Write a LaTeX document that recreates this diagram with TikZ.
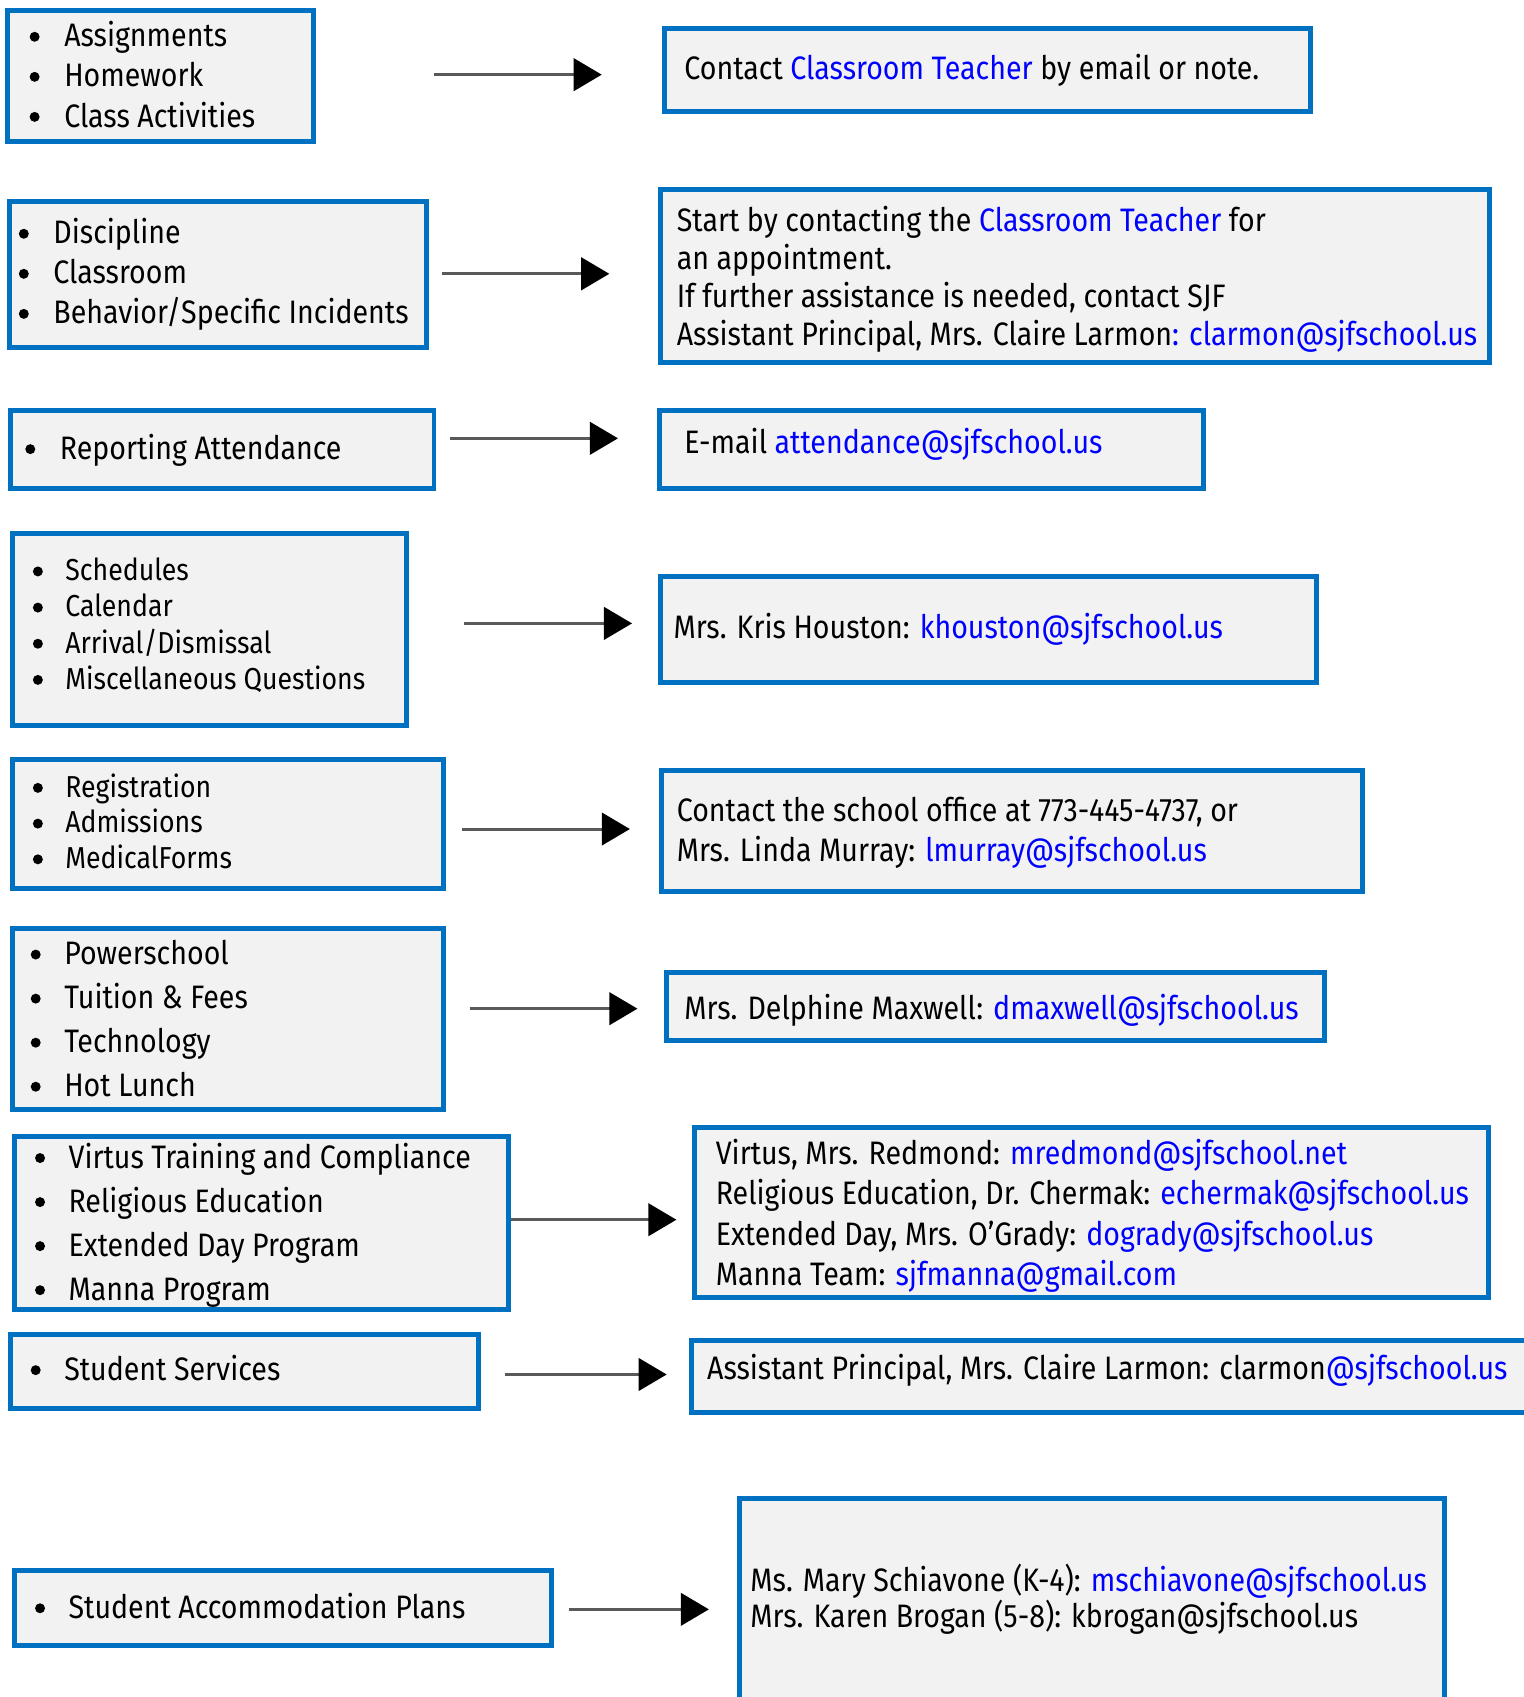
\documentclass[tikz,border=0pt]{standalone}
\usepackage{fontspec}
\setmainfont[FakeStretch=0.88]{Fira Sans}
\usetikzlibrary{arrows.meta,fit}
\definecolor{boxblue}{HTML}{0070C0}
\definecolor{boxgrey}{HTML}{F2F2F2}
\definecolor{linkblue}{HTML}{0000FF}
\definecolor{arrgrey}{HTML}{595959}
\newcommand{\lnk}[1]{\textcolor{linkblue}{#1}}

\begin{document}
\begin{tikzpicture}[x=0.5pt,y=-0.5pt,
  box/.style={draw=boxblue,line width=2.3pt,fill=boxgrey,inner sep=0pt},
  txt/.style={anchor=west,inner sep=0pt,text depth=0pt},
  dot/.style={circle,fill=black,inner sep=0pt,minimum size=4.6pt},
  fs/.style={font=\fontsize{#1}{#1}\selectfont,text height=0.69*#1pt},
  arr/.style={draw=arrgrey,line width=1.4pt,-{Triangle[length=13pt,width=15pt,black]}}]
\useasboundingbox (0,0) rectangle (1408,1568);

% boxes on the left
\node[box,fit={(7,10) (290,131)}] (l1) {};
\node[box,fit={(9,186) (394,321)}] (l2) {};
\node[box,fit={(10,379) (401,451)}] (l3) {};
\node[box,fit={(12,493) (376,670)}] (l4) {};
\node[box,fit={(12,702) (410,821)}] (l5) {};
\node[box,fit={(12,858) (410,1025)}] (l6) {};
\node[box,fit={(13,1050) (470,1210)}] (l7) {};
\node[box,fit={(10,1233) (442,1301)}] (l8) {};
\node[box,fit={(13,1451) (510,1520)}] (l9) {};

% boxes on the right
\node[box,fit={(614,26) (1211,103)}] (r1) {};
\node[box,fit={(610,175) (1376,335)}] (r2) {};
\node[box,fit={(609,379) (1112,451)}] (r3) {};
\node[box,fit={(610,533) (1216,631)}] (r4) {};
\node[box,fit={(611,712) (1259,824)}] (r5) {};
\node[box,fit={(616,899) (1224,961)}] (r6) {};
\node[box,fit={(642,1042) (1375,1199)}] (r7) {};
\node[box,fit={(639,1239) (1420,1305)}] (r8) {};
\node[box,fit={(683,1385) (1335,1580)}] (r9) {};

% bullet lists
\foreach \t [count=\i] in {Assignments,Homework,Class Activities}{
  \node[dot] (d1\i) at (32,34+37*\i-37) {};
  \node[txt,fs=15] (a1\i) at (59,33+37*\i-37) {\t};
}
\foreach \t [count=\i] in {Discipline,Classroom,Behavior/Specific Incidents}{
  \node[dot] (d2\i) at (22,216+37*\i-37) {};
  \node[txt,fs=15] (a2\i) at (49,215+37*\i-37) {\t};
}
\node[dot] (d31) at (28,415) {};
\node[txt,fs=15] (a31) at (55,414) {Reporting Attendance};
\foreach \t [count=\i] in {Schedules,Calendar,Arrival/Dismissal,Miscellaneous Questions}{
  \node[dot] (d4\i) at (35,528+33.4*\i-33.4) {};
  \node[txt,fs=14] (a4\i) at (60,527+33.4*\i-33.4) {\t};
}
\foreach \t [count=\i] in {Registration,Admissions,MedicalForms}{
  \node[dot] (d5\i) at (35,728+33*\i-33) {};
  \node[txt,fs=14] (a5\i) at (60,727+33*\i-33) {\t};
}
\foreach \t [count=\i] in {Powerschool,Tuition \& Fees,Technology,Hot Lunch}{
  \node[dot] (d6\i) at (33,882+40.7*\i-40.7) {};
  \node[txt,fs=15] (a6\i) at (59,881+40.7*\i-40.7) {\t};
}
\foreach \t [count=\i] in {Virtus Training and Compliance,Religious Education,Extended Day Program,Manna Program}{
  \node[dot] (d7\i) at (37,1070+40.7*\i-40.7) {};
  \node[txt,fs=15] (a7\i) at (63,1069+40.7*\i-40.7) {\t};
}
\node[dot] (d81) at (33,1266) {};
\node[txt,fs=15] (a81) at (59,1265) {Student Services};
\node[dot] (d91) at (37,1486) {};
\node[txt,fs=15] (a91) at (63,1485) {Student Accommodation Plans};

% contact texts
\node[txt,fs=15] (c11) at (632,63) {Contact \lnk{Classroom Teacher} by email or note.};
\foreach \t [count=\i] in {{Start by contacting the \lnk{Classroom Teacher} for},
    {an appointment.},
    {If further assistance is needed, contact SJF},
    {Assistant Principal, Mrs. Claire Larmon\lnk{: clarmon@sjfschool.us}}}
  \node[txt,fs=15] (c2\i) at (625,204+35*\i-35) {\t};
\node[txt,fs=15] (c31) at (632,409) {E-mail \lnk{attendance@sjfschool.us}};
\node[txt,fs=15] (c41) at (622,580) {Mrs. Kris Houston: \lnk{khouston@sjfschool.us}};
\node[txt,fs=15] (c51) at (625,749) {Contact the school office at 773-445-4737, or};
\node[txt,fs=15] (c52) at (625,786) {Mrs. Linda Murray: \lnk{lmurray@sjfschool.us}};
\node[txt,fs=15] (c61) at (632,932) {Mrs. Delphine Maxwell: \lnk{dmaxwell@sjfschool.us}};
\foreach \t [count=\i] in {{Virtus, Mrs. Redmond: \lnk{mredmond@sjfschool.net}},
    {Religious Education, Dr. Chermak: \lnk{echermak@sjfschool.us}},
    {Extended Day, Mrs. O’Grady: \lnk{dogrady@sjfschool.us}},
    {Manna Team: \lnk{sjfmanna@gmail.com}}}
  \node[txt,fs=15] (c7\i) at (661,1066+37*\i-37) {\t};
\node[txt,fs=15] (c81) at (653,1264) {Assistant Principal, Mrs. Claire Larmon: clarmon\lnk{@sjfschool.us}};
\node[txt,fs=15] (c91) at (693,1460) {Ms. Mary Schiavone (K-4): \lnk{mschiavone@sjfschool.us}};
\node[txt,fs=15] (c92) at (693,1493) {Mrs. Karen Brogan (5-8): kbrogan@sjfschool.us};

% arrows
\coordinate (s1) at (401,69);   \coordinate (e1) at (556,69);
\coordinate (s2) at (408,253);  \coordinate (e2) at (563,253);
\coordinate (s3) at (416,405);  \coordinate (e3) at (571,405);
\coordinate (s4) at (429,576);  \coordinate (e4) at (584,576);
\coordinate (s5) at (427,766);  \coordinate (e5) at (582,766);
\coordinate (s6) at (434,932);  \coordinate (e6) at (589,932);
\coordinate (s8) at (467,1270); \coordinate (e8) at (616,1270);
\coordinate (s9) at (526,1487); \coordinate (e9) at (655,1487);
\coordinate (e7) at (625,1127);
\foreach \k in {1,2,3,4,5,6,8,9}
  \draw[arr] (s\k) -- (e\k);
\draw[arr] (l7.east |- e7) -- (e7);
\end{tikzpicture}
\end{document}
